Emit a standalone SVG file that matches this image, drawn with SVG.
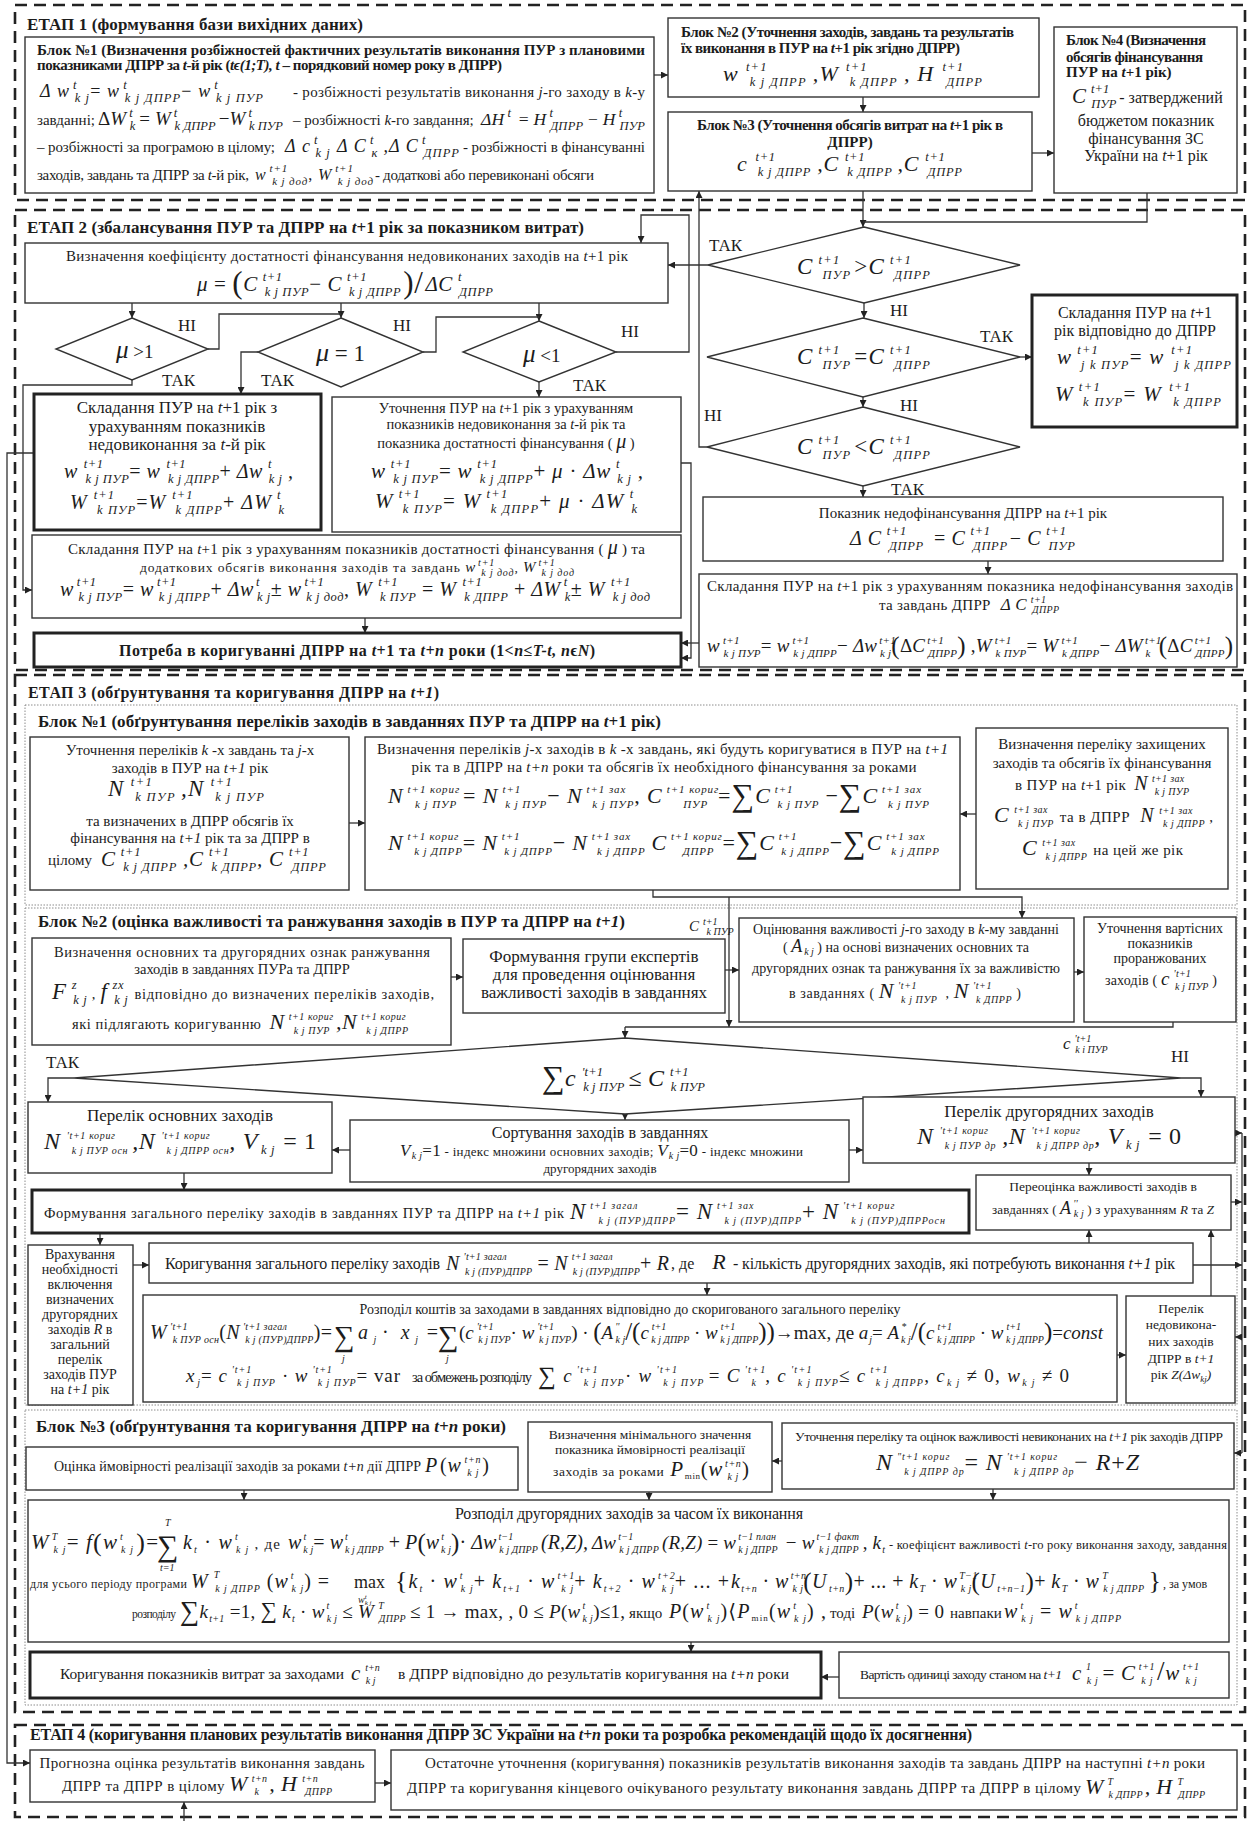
<svg xmlns="http://www.w3.org/2000/svg" width="1250" height="1821" viewBox="0 0 1250 1821">
<defs>
<marker id="ah" viewBox="0 0 10 10" refX="10" refY="5" markerWidth="8" markerHeight="7" markerUnits="userSpaceOnUse" orient="auto"><path d="M0,0L10,5L0,10z" fill="#222"/></marker>
<style>
svg{font-size:15px}
text{font-family:"Liberation Serif","DejaVu Serif",serif;fill:#1c1c1c}
.h{font-weight:bold}
.i,.f{font-style:italic}
.s{font-size:12.5px;font-style:italic}
.s2{font-size:11px;font-style:italic}
.ss{font-size:10px;font-style:italic}
.u{font-style:normal}
.c{text-anchor:middle}
.bx{fill:#fff;stroke:#333;stroke-width:1.4}
.bt{fill:#fff;stroke:#222;stroke-width:3}
.st{fill:none;stroke:#222;stroke-width:2.6;stroke-dasharray:12 7}
.bl{fill:none;stroke:#8c8c8c;stroke-width:1;stroke-dasharray:1.5 1.5}
.dm{fill:#fff;stroke:#333;stroke-width:1.4}
.cn{fill:none;stroke:#333;stroke-width:1.3;marker-end:url(#ah)}
.ln{fill:none;stroke:#333;stroke-width:1.3}
.lb{font-size:17px}
</style>
</defs>
<rect width="1250" height="1821" fill="#fff"/>

<g id="frames">
<rect class="st" x="15" y="5" width="1230" height="195"/>
<text class="h" x="27" y="30" font-size="17" textLength="336">ЕТАП 1 (формування бази вихідних даних)</text>
<rect class="st" x="15" y="210" width="1230" height="460"/>
<text class="h" x="27" y="233" font-size="17" textLength="557">ЕТАП 2 (збалансування ПУР та ДПРР на <tspan class="i">t</tspan>+1 рік за показником витрат)</text>
<rect class="st" x="15" y="675" width="1230" height="1037"/>
<text class="h" x="28" y="698" font-size="16" textLength="411">ЕТАП 3 (обґрунтування та коригування ДПРР на <tspan class="i">t+1</tspan>)</text>
<rect class="bl" x="25" y="705" width="1212" height="200"/>
<text class="h" x="38" y="727" font-size="17" textLength="623">Блок №1 (обґрунтування переліків заходів в завданнях ПУР та ДПРР на <tspan class="i">t</tspan>+1 рік)</text>
<rect class="bl" x="25" y="908" width="1212" height="497"/>
<text class="h" x="38" y="927" font-size="17" textLength="587">Блок №2 (оцінка важливості та ранжування заходів в ПУР та ДПРР на <tspan class="i">t+1</tspan>)</text>
<rect class="bl" x="25" y="1410" width="1212" height="295"/>
<text class="h" x="36" y="1432" font-size="17" textLength="470">Блок №3 (обґрунтування та коригування ДПРР на <tspan class="i">t+n</tspan> роки)</text>
<rect class="st" x="15" y="1725" width="1230" height="92"/>
<text class="h" x="30" y="1740" font-size="16" textLength="942">ЕТАП 4 (коригування планових результатів виконання ДПРР ЗС України на <tspan class="i">t+n</tspan> роки та розробка рекомендацій щодо їх досягнення)</text>
</g>

<g id="connectors">
<path class="cn" d="M654,75H668"/>
<path class="cn" d="M863,97V112"/>
<path class="cn" d="M1032,153H1054"/>
<path class="cn" d="M863,191V227"/>
<path class="ln" d="M1147,193V222H863"/>
<path class="cn" d="M708,265H668"/>
<path class="cn" d="M864,303V318"/>
<path class="cn" d="M1020,357H1032"/>
<path class="cn" d="M863,397V407"/>
<path class="cn" d="M707,447H699V191"/>
<path class="cn" d="M863,486V497"/>
<path class="cn" d="M988,561V574"/>
<path class="cn" d="M699,643H681"/>
<path class="cn" d="M681,463H691V658H681"/>
<path class="cn" d="M132,303V318"/>
<path class="cn" d="M341,303V318"/>
<path class="cn" d="M539,303V321"/>
<path class="ln" d="M208,349H219V314H341"/>
<path class="ln" d="M423,352H436V317H539"/>
<path class="cn" d="M616,352H689V215H641V243"/>
<path class="cn" d="M258,352H241V394"/>
<path class="cn" d="M132,380V385H23V590H32"/>
<path class="cn" d="M539,382V397"/>
<path class="cn" d="M34,453H7V1763H30"/>
<path class="cn" d="M365,618V633"/>
<path class="cn" d="M349,823H365"/>
<path class="cn" d="M976,814H960"/>
<path class="cn" d="M653,890V897H1022V918"/>
<path class="cn" d="M729,897V1027"/>
<path class="cn" d="M451,977H463"/>
<path class="cn" d="M725,970H739"/>
<path class="cn" d="M1074,972H1084"/>
<path class="ln" d="M1173,1022V1027H625"/>
<path class="cn" d="M625,1027V1038"/>
<path class="cn" d="M74,1078H48V1102"/>
<path class="cn" d="M1181,1078H1201V1097"/>
<path class="cn" d="M625,1110V1120"/>
<path class="cn" d="M350,1150H332"/>
<path class="cn" d="M849,1150H863"/>
<path class="cn" d="M1089,1163V1175"/>
<path class="cn" d="M184,1173V1190"/>
<path class="cn" d="M100,1233V1245"/>
<path class="cn" d="M133,1265H149"/>
<path class="cn" d="M1089,1243V1230"/>
<path class="cn" d="M707,1283V1295"/>
<path class="cn" d="M1193,1265H1242"/>
<path class="cn" d="M1234,1133H1242"/>
<path class="cn" d="M1231,1202H1242"/>
<path class="ln" d="M1242,1133V1453"/>
<path class="cn" d="M1242,1337H1235"/>
<path class="cn" d="M1242,1453H1234"/>
<path class="cn" d="M1117,1355H1126"/>
<path class="cn" d="M1211,1296V1230"/>
<path class="cn" d="M782,1461H772"/>
<path class="cn" d="M244,1490V1500"/>
<path class="cn" d="M649,1492V1500"/>
<path class="cn" d="M993,1489V1500"/>
<path class="cn" d="M691,1642V1652"/>
<path class="cn" d="M839,1677H821"/>
<path class="cn" d="M375,1783H391"/>
<path class="cn" d="M184,1821V1802"/>
</g>

<g id="s1-block1">
<rect class="bx" x="25" y="37" width="629" height="156"/>
<text class="h" x="37" y="55" textLength="608">Блок №1 (Визначення розбіжностей фактичних результатів виконання ПУР з плановими</text>
<text class="h" x="37" y="70" textLength="465">показниками ДПРР за <tspan class="i">t</tspan>-й рік (<tspan class="i">tϵ(1;T), t</tspan> – порядковий номер року в ДПРР)</text>
<text class="f" x="40" y="97" font-size="18" textLength="223">Δ w<tspan class="s" dx="3" dy="-8">t</tspan><tspan class="s" dx="-3" dy="13">k j</tspan><tspan class="u" dy="-5">= </tspan><tspan>w</tspan><tspan class="s" dx="3" dy="-8">t</tspan><tspan class="s" dx="-3" dy="13">k j ДПРР</tspan><tspan class="u" dy="-5">− </tspan><tspan>w</tspan><tspan class="s" dx="3" dy="-8">t</tspan><tspan class="s" dx="-3" dy="13">k j ПУР</tspan></text>
<text x="293" y="97" textLength="352">- розбіжності результатів виконання <tspan class="i">j</tspan>-го заходу в <tspan class="i">k</tspan>-у</text>
<text x="37" y="125">завданні;</text>
<text class="f" x="98" y="125" font-size="19" textLength="185"><tspan class="u">Δ</tspan>W<tspan class="s" dx="3" dy="-8">t</tspan><tspan class="s" dx="-3" dy="13">k</tspan><tspan class="u" dx="4" dy="-5">= </tspan><tspan>W</tspan><tspan class="s" dx="3" dy="-8">t</tspan><tspan class="s" dx="-3" dy="13">k ДПРР</tspan><tspan class="u" dx="3" dy="-5">−</tspan><tspan>W</tspan><tspan class="s" dx="3" dy="-8">t</tspan><tspan class="s" dx="-3" dy="13">k ПУР</tspan></text>
<text x="293" y="125">– розбіжності <tspan class="i">k</tspan>-го завдання;</text>
<text class="f" x="481" y="125" font-size="17.5" textLength="164">ΔH<tspan class="s" dx="3" dy="-8">t</tspan><tspan class="u" dx="3" dy="8"> = </tspan><tspan>H</tspan><tspan class="s" dx="3" dy="-8">t</tspan><tspan class="s" dx="-3" dy="13">ДПРР</tspan><tspan class="u" dy="-5"> − </tspan><tspan>H</tspan><tspan class="s" dx="3" dy="-8">t</tspan><tspan class="s" dx="-3" dy="13">ПУР</tspan></text>
<text x="37" y="152" textLength="238">– розбіжності за програмою в цілому;</text>
<text class="f" x="285" y="152" font-size="18" textLength="174">Δ c<tspan class="s" dx="3" dy="-8">t</tspan><tspan class="s" dx="-3" dy="13">k j</tspan><tspan dx="6" dy="-5">Δ C</tspan><tspan class="s" dx="3" dy="-8">t</tspan><tspan class="s" dx="-3" dy="13">к</tspan><tspan dx="5" dy="-5">,Δ C</tspan><tspan class="s" dx="3" dy="-8">t</tspan><tspan class="s" dx="-3" dy="13">ДПРР</tspan></text>
<text x="463" y="152" textLength="182">- розбіжності в фінансуванні</text>
<text x="37" y="180" textLength="212">заходів, завдань та ДПРР за <tspan class="i">t</tspan>-й рік,</text>
<text class="f" x="255" y="180" font-size="16" textLength="118">w<tspan class="s2" dx="3" dy="-8">t+1</tspan><tspan class="s2" dx="-16" dy="13">k j дод</tspan><tspan class="u" dy="-5">, </tspan><tspan>W</tspan><tspan class="s2" dx="3" dy="-8">t+1</tspan><tspan class="s2" dx="-16" dy="13">k j дод</tspan></text>
<text x="375" y="180" textLength="219">- додаткові або перевиконані обсяги</text>
</g>

<g id="s1-block2">
<rect class="bx" x="668" y="18" width="371" height="79"/>
<text class="h" x="681" y="37" textLength="333">Блок №2 (Уточнення заходів, завдань та результатів</text>
<text class="h" x="681" y="53" textLength="279">їх виконання в ПУР на <tspan class="i">t</tspan>+1 рік згідно ДПРР)</text>
<text class="f" x="723" y="81" font-size="22" textLength="259">w<tspan class="s" dx="7" dy="-10">t+1</tspan><tspan class="s" dx="-18" dy="15">k j ДПРР</tspan><tspan dx="6" dy="-5">,W</tspan><tspan class="s" dx="7" dy="-10">t+1</tspan><tspan class="s" dx="-18" dy="15">k ДПРР</tspan><tspan dx="6" dy="-5">, H</tspan><tspan class="s" dx="8" dy="-10">t+1</tspan><tspan class="s" dx="-18" dy="15">ДПРР</tspan></text>
</g>

<g id="s1-block3">
<rect class="bx" x="668" y="112" width="364" height="79"/>
<text class="h c" x="850" y="130" textLength="306">Блок №3 (Уточнення обсягів витрат на <tspan class="i">t</tspan>+1 рік в</text>
<text class="h c" x="850" y="147">ДПРР)</text>
<text class="f" x="737" y="171" font-size="22" textLength="225">c<tspan class="s" dx="8" dy="-10">t+1</tspan><tspan class="s" dx="-18" dy="15">k j ДПРР</tspan><tspan dx="6" dy="-5">,C</tspan><tspan class="s" dx="6" dy="-10">t+1</tspan><tspan class="s" dx="-18" dy="15">k ДПРР</tspan><tspan dx="5" dy="-5">,C</tspan><tspan class="s" dx="6" dy="-10">t+1</tspan><tspan class="s" dx="-18" dy="15">ДПРР</tspan></text>
</g>

<g id="s1-block4">
<rect class="bx" x="1054" y="27" width="183" height="166"/>
<text class="h" x="1066" y="45" textLength="140">Блок №4 (Визначення</text>
<text class="h" x="1066" y="62" textLength="137">обсягів фінансування</text>
<text class="h" x="1066" y="77">ПУР на <tspan class="i">t</tspan>+1 рік)</text>
<text x="1072" y="103" font-size="16"><tspan class="i" font-size="21">C</tspan><tspan class="s" dx="5" dy="-10">t+1</tspan><tspan class="s" dx="-18" dy="15">ПУР</tspan><tspan dx="3" dy="-5">- затверджений</tspan></text>
<text class="c" x="1146" y="126" font-size="16">бюджетом показник</text>
<text class="c" x="1146" y="144" font-size="16">фінансування ЗС</text>
<text class="c" x="1146" y="161" font-size="16">України на <tspan class="i">t</tspan>+1 рік</text>
</g>

<g id="s2-coef">
<rect class="bx" x="25" y="243" width="643" height="60"/>
<text class="c" x="347" y="261" textLength="562">Визначення коефіцієнту достатності фінансування недовиконаних заходів на <tspan class="i">t</tspan>+1 рік</text>
<text class="f" x="197" y="291" font-size="21" textLength="296">μ <tspan class="u">=</tspan> <tspan class="u" font-size="31" dy="2">(</tspan><tspan dy="-2">C</tspan><tspan class="s" dx="5" dy="-10">t+1</tspan><tspan class="s" dx="-18" dy="15">k j ПУР</tspan><tspan class="u" dy="-5">− </tspan><tspan>C</tspan><tspan class="s" dx="5" dy="-10">t+1</tspan><tspan class="s" dx="-18" dy="15">k j ДПРР</tspan><tspan class="u" font-size="31" dx="2" dy="-3">)</tspan><tspan class="u" font-size="31">/</tspan><tspan dx="2" dy="-2">ΔC</tspan><tspan class="s" dx="5" dy="-10">t</tspan><tspan class="s" dx="-3" dy="15">ДПРР</tspan></text>
</g>

<g id="s2-d1">
<polygon class="dm" points="864,227 1020,265 864,303 708,265"/>
<text class="f" x="797" y="274" font-size="23" textLength="133">C<tspan class="s" dx="5" dy="-10">t+1</tspan><tspan class="s" dx="-18" dy="15">ПУР</tspan><tspan class="u" dx="3" dy="-5">&gt;</tspan><tspan>C</tspan><tspan class="s" dx="5" dy="-10">t+1</tspan><tspan class="s" dx="-18" dy="15">ДПРР</tspan></text>
<text class="lb" x="709" y="251">ТАК</text>
<text class="lb" x="890" y="316">НІ</text>
</g>

<g id="s2-d2">
<polygon class="dm" points="863,318 1020,357 863,397 707,357"/>
<text class="f" x="797" y="364" font-size="23" textLength="133">C<tspan class="s" dx="5" dy="-10">t+1</tspan><tspan class="s" dx="-18" dy="15">ПУР</tspan><tspan class="u" dx="3" dy="-5">=</tspan><tspan>C</tspan><tspan class="s" dx="5" dy="-10">t+1</tspan><tspan class="s" dx="-18" dy="15">ДПРР</tspan></text>
<text class="lb" x="980" y="342">ТАК</text>
<text class="lb" x="900" y="411">НІ</text>
</g>

<g id="s2-d3">
<polygon class="dm" points="863,407 1020,447 863,486 707,447"/>
<text class="f" x="797" y="454" font-size="23" textLength="133">C<tspan class="s" dx="5" dy="-10">t+1</tspan><tspan class="s" dx="-18" dy="15">ПУР</tspan><tspan class="u" dx="3" dy="-5">&lt;</tspan><tspan>C</tspan><tspan class="s" dx="5" dy="-10">t+1</tspan><tspan class="s" dx="-18" dy="15">ДПРР</tspan></text>
<text class="lb" x="704" y="421">НІ</text>
<text class="lb" x="891" y="495">ТАК</text>
</g>

<g id="s2-pur-dprr">
<rect class="bt" x="1032" y="295" width="205" height="132"/>
<text class="c" x="1135" y="318" font-size="16">Складання ПУР на <tspan class="i">t</tspan>+1</text>
<text class="c" x="1135" y="336" font-size="16">рік відповідно до ДПРР</text>
<text class="f" x="1057" y="364" font-size="21" textLength="174">w<tspan class="s" dx="5" dy="-10">t+1</tspan><tspan class="s" dx="-18" dy="15">j k ПУР</tspan><tspan class="u" dy="-5">= </tspan><tspan>w</tspan><tspan class="s" dx="7" dy="-10">t+1</tspan><tspan class="s" dx="-18" dy="15">j k ДПРР</tspan></text>
<text class="f" x="1055" y="401" font-size="21" textLength="166">W<tspan class="s" dx="5" dy="-10">t+1</tspan><tspan class="s" dx="-18" dy="15">k ПУР</tspan><tspan class="u" dy="-5">= </tspan><tspan>W</tspan><tspan class="s" dx="7" dy="-10">t+1</tspan><tspan class="s" dx="-18" dy="15">k ДПРР</tspan></text>
</g>

<g id="s2-underfin">
<rect class="bx" x="703" y="497" width="520" height="64"/>
<text class="c" x="963" y="518">Показник недофінансування ДПРР на <tspan class="i">t</tspan>+1 рік</text>
<text class="f" x="850" y="545" font-size="20" textLength="225">Δ C<tspan class="s" dx="5" dy="-10">t+1</tspan><tspan class="s" dx="-18" dy="15">ДПРР</tspan><tspan class="u" dx="10" dy="-5">= </tspan><tspan>C</tspan><tspan class="s" dx="5" dy="-10">t+1</tspan><tspan class="s" dx="-18" dy="15">ДПРР</tspan><tspan class="u" dx="2" dy="-5">− </tspan><tspan>C</tspan><tspan class="s" dx="5" dy="-10">t+1</tspan><tspan class="s" dx="-18" dy="15">ПУР</tspan></text>
</g>

<g id="s2-pur-underfin">
<rect class="bx" x="699" y="574" width="538" height="93"/>
<text x="707" y="591" textLength="526">Складання ПУР на <tspan class="i">t</tspan>+1 рік з урахуванням показника недофінансування заходів</text>
<text x="879" y="610" textLength="180">та завдань ДПРР <tspan class="i" font-size="17" dx="6">Δ C</tspan><tspan class="ss" dx="4" dy="-7">t+1</tspan><tspan class="ss" dx="-14" dy="10">ДПРР</tspan></text>
<text class="f" x="707" y="652" font-size="19" textLength="526">w<tspan class="s2" dx="3" dy="-8">t+1</tspan><tspan class="s2" dx="-16" dy="13">k j ПУР</tspan><tspan class="u" dy="-5">= </tspan><tspan>w</tspan><tspan class="s2" dx="3" dy="-8">t+1</tspan><tspan class="s2" dx="-16" dy="13">k j ДПРР</tspan><tspan class="u" dy="-5">− </tspan><tspan>Δw</tspan><tspan class="s2" dx="2" dy="-8">t+1</tspan><tspan class="s2" dx="-16" dy="13">k j</tspan><tspan class="u" font-size="25" dy="-3">(</tspan><tspan class="u" dy="-2">Δ</tspan><tspan>C</tspan><tspan class="s2" dx="2" dy="-8">t+1</tspan><tspan class="s2" dx="-16" dy="13">ДПРР</tspan><tspan class="u" font-size="25" dy="-3">)</tspan><tspan class="u" dy="-2"> ,</tspan><tspan>W</tspan><tspan class="s2" dx="3" dy="-8">t+1</tspan><tspan class="s2" dx="-16" dy="13">k ПУР</tspan><tspan class="u" dy="-5">= </tspan><tspan>W</tspan><tspan class="s2" dx="3" dy="-8">t+1</tspan><tspan class="s2" dx="-16" dy="13">k ДПРР</tspan><tspan class="u" dy="-5">− </tspan><tspan>ΔW</tspan><tspan class="s2" dx="2" dy="-8">t+1</tspan><tspan class="s2" dx="-16" dy="13">k</tspan><tspan class="u" font-size="25" dx="8" dy="-3">(</tspan><tspan class="u" dy="-2">Δ</tspan><tspan>C</tspan><tspan class="s2" dx="2" dy="-8">t+1</tspan><tspan class="s2" dx="-16" dy="13">ДПРР</tspan><tspan class="u" font-size="25" dy="-3">)</tspan></text>
</g>

<g id="s2-mu1">
<polygon class="dm" points="132,318 208,349 132,380 56,349"/>
<text x="116" y="358" font-size="19"><tspan class="i" font-size="25">μ</tspan> &gt;1</text>
<text class="lb" x="178" y="331">НІ</text>
<text class="lb" x="162" y="386">ТАК</text>
</g>

<g id="s2-mu2">
<polygon class="dm" points="341,318 423,352 341,387 258,352"/>
<text x="316" y="361" font-size="23"><tspan class="i" font-size="26">μ</tspan> = 1</text>
<text class="lb" x="393" y="331">НІ</text>
<text class="lb" x="261" y="386">ТАК</text>
</g>

<g id="s2-mu3">
<polygon class="dm" points="539,321 616,352 539,382 463,352"/>
<text x="523" y="362" font-size="19"><tspan class="i" font-size="25">μ</tspan> &lt;1</text>
<text class="lb" x="621" y="337">НІ</text>
<text class="lb" x="573" y="391">ТАК</text>
</g>

<g id="s2-pur-undone">
<rect class="bt" x="34" y="394" width="287" height="136"/>
<text class="c" x="177" y="413" font-size="17">Складання ПУР на <tspan class="i">t</tspan>+1 рік з</text>
<text class="c" x="177" y="432" font-size="17">урахуванням показників</text>
<text class="c" x="177" y="450" font-size="17">недовиконання за <tspan class="i">t</tspan>-й рік</text>
<text class="f" x="64" y="478" font-size="20" textLength="229">w<tspan class="s" dx="6" dy="-10">t+1</tspan><tspan class="s" dx="-18" dy="15">k j ПУР</tspan><tspan class="u" dy="-5">= </tspan><tspan>w</tspan><tspan class="s" dx="6" dy="-10">t+1</tspan><tspan class="s" dx="-18" dy="15">k j ДПРР</tspan><tspan class="u" dy="-5">+ </tspan><tspan>Δw</tspan><tspan class="s" dx="5" dy="-10">t</tspan><tspan class="s" dx="-3" dy="15">k j</tspan><tspan dy="-5"> ,</tspan></text>
<text class="f" x="70" y="509" font-size="20" textLength="214">W<tspan class="s" dx="6" dy="-10">t+1</tspan><tspan class="s" dx="-18" dy="15">k ПУР</tspan><tspan class="u" dy="-5">=</tspan><tspan>W</tspan><tspan class="s" dx="6" dy="-10">t+1</tspan><tspan class="s" dx="-18" dy="15">k ДПРР</tspan><tspan class="u" dy="-5">+ </tspan><tspan>ΔW</tspan><tspan class="s" dx="5" dy="-10">t</tspan><tspan class="s" dx="-3" dy="15">k</tspan></text>
</g>

<g id="s2-pur-mu">
<rect class="bx" x="332" y="397" width="349" height="135"/>
<text class="c" x="506" y="413" font-size="14.5">Уточнення ПУР на <tspan class="i">t</tspan>+1 рік з урахуванням</text>
<text class="c" x="506" y="429" font-size="14.5">показників недовиконання за <tspan class="i">t</tspan>-й рік та</text>
<text class="c" x="506" y="448" font-size="14.5">показника достатності фінансування ( <tspan class="i" font-size="20">μ</tspan> )</text>
<text class="f" x="371" y="478" font-size="21" textLength="272">w<tspan class="s" dx="5" dy="-10">t+1</tspan><tspan class="s" dx="-18" dy="15">k j ПУР</tspan><tspan class="u" dy="-5">= </tspan><tspan>w</tspan><tspan class="s" dx="5" dy="-10">t+1</tspan><tspan class="s" dx="-18" dy="15">k j ДПРР</tspan><tspan class="u" dy="-5">+ </tspan><tspan>μ</tspan><tspan class="u"> · </tspan><tspan>Δw</tspan><tspan class="s" dx="5" dy="-10">t</tspan><tspan class="s" dx="-3" dy="15">k j</tspan><tspan dy="-5"> ,</tspan></text>
<text class="f" x="375" y="508" font-size="21" textLength="262">W<tspan class="s" dx="5" dy="-10">t+1</tspan><tspan class="s" dx="-18" dy="15">k ПУР</tspan><tspan class="u" dy="-5">= </tspan><tspan>W</tspan><tspan class="s" dx="5" dy="-10">t+1</tspan><tspan class="s" dx="-18" dy="15">k ДПРР</tspan><tspan class="u" dy="-5">+ </tspan><tspan>μ</tspan><tspan class="u"> · </tspan><tspan>ΔW</tspan><tspan class="s" dx="5" dy="-10">t</tspan><tspan class="s" dx="-3" dy="15">k</tspan></text>
</g>

<g id="s2-pur-extra">
<rect class="bx" x="32" y="535" width="649" height="83"/>
<text x="68" y="554" textLength="577">Складання ПУР на <tspan class="i">t</tspan>+1 рік з урахуванням показників достатності фінансування ( <tspan class="i" font-size="20">μ</tspan> ) та</text>
<text x="140" y="572" font-size="13.5" textLength="434">додаткових обсягів виконання заходів та завдань <tspan class="i" font-size="15">w</tspan><tspan class="ss" dx="2" dy="-6">t+1</tspan><tspan class="ss" dx="-14" dy="10">k j дод</tspan><tspan dy="-4">, </tspan><tspan class="i" font-size="15">W</tspan><tspan class="ss" dx="2" dy="-6">t+1</tspan><tspan class="ss" dx="-14" dy="10">k j дод</tspan></text>
<text class="f" x="60" y="596" font-size="20" textLength="590">w<tspan class="s" dx="3" dy="-10">t+1</tspan><tspan class="s" dx="-18" dy="15">k j ПУР</tspan><tspan class="u" dy="-5">= </tspan><tspan>w</tspan><tspan class="s" dx="3" dy="-10">t+1</tspan><tspan class="s" dx="-18" dy="15">k j ДПРР</tspan><tspan class="u" dy="-5">+ </tspan><tspan>Δw</tspan><tspan class="s" dx="2" dy="-10">t</tspan><tspan class="s" dx="-3" dy="15">k j</tspan><tspan class="u" dy="-5">± </tspan><tspan>w</tspan><tspan class="s" dx="3" dy="-10">t+1</tspan><tspan class="s" dx="-18" dy="15">k j дод</tspan><tspan class="u" dy="-5">, </tspan><tspan>W</tspan><tspan class="s" dx="6" dy="-10">t+1</tspan><tspan class="s" dx="-18" dy="15">k ПУР</tspan><tspan class="u" dy="-5"> = </tspan><tspan>W</tspan><tspan class="s" dx="6" dy="-10">t+1</tspan><tspan class="s" dx="-18" dy="15">k ДПРР</tspan><tspan class="u" dy="-5"> + </tspan><tspan>ΔW</tspan><tspan class="s" dx="3" dy="-10">t</tspan><tspan class="s" dx="-3" dy="15">k</tspan><tspan class="u" dy="-5">± </tspan><tspan>W</tspan><tspan class="s" dx="6" dy="-10">t+1</tspan><tspan class="s" dx="-18" dy="15">k j дод</tspan></text>
</g>

<g id="s2-need">
<rect class="bt" x="34" y="633" width="647" height="34"/>
<text class="h c" x="357" y="656" font-size="16" textLength="476">Потреба в коригуванні ДПРР на <tspan class="i">t</tspan>+1 та <tspan class="i">t+n</tspan> роки (1&lt;<tspan class="i">n</tspan>≤<tspan class="i">T-t, n</tspan>ϵ<tspan class="i">N</tspan>)</text>
</g>

<g id="s3-lists">
<rect class="bx" x="30" y="737" width="319" height="153"/>
<text class="c" x="190" y="755">Уточнення переліків <tspan class="i">k</tspan> -х завдань та <tspan class="i">j</tspan>-х</text>
<text class="c" x="190" y="773">заходів в ПУР на <tspan class="i">t+1</tspan> рік</text>
<text class="f" x="108" y="796" font-size="23" textLength="156">N<tspan class="s" dx="6" dy="-10">t+1</tspan><tspan class="s" dx="-18" dy="15">k ПУР</tspan><tspan dx="5" dy="-5">,N</tspan><tspan class="s" dx="6" dy="-10">t+1</tspan><tspan class="s" dx="-18" dy="15">k j ПУР</tspan></text>
<text class="c" x="190" y="826">та визначених в ДПРР обсягів їх</text>
<text class="c" x="190" y="843">фінансування на <tspan class="i">t+1</tspan> рік та за ДПРР в</text>
<text x="48" y="865">цілому</text>
<text class="f" x="101" y="866" font-size="21" textLength="225">C<tspan class="s" dx="5" dy="-10">t+1</tspan><tspan class="s" dx="-18" dy="15">k j ДПРР</tspan><tspan dx="6" dy="-5">,C</tspan><tspan class="s" dx="5" dy="-10">t+1</tspan><tspan class="s" dx="-18" dy="15">k ДПРР</tspan><tspan dy="-5">, C</tspan><tspan class="s" dx="5" dy="-10">t+1</tspan><tspan class="s" dx="-18" dy="15">ДПРР</tspan></text>
</g>

<g id="s3-corr-lists">
<rect class="bx" x="365" y="737" width="595" height="153"/>
<text x="377" y="754" textLength="571">Визначення переліків <tspan class="i">j</tspan>-х заходів в <tspan class="i">k</tspan> -х завдань, які будуть коригуватися в ПУР на <tspan class="i">t+1</tspan></text>
<text class="c" x="664" y="772" textLength="505">рік та в ДПРР на <tspan class="i">t+n</tspan> роки та обсягів їх необхідного фінансування за роками</text>
<text class="f" x="388" y="803" font-size="22" textLength="541">N<tspan class="s2" dx="4" dy="-10">t+1 кориг</tspan><tspan class="s2" dx="-45" dy="15">k j ПУР</tspan><tspan class="u" dx="6" dy="-5">= </tspan><tspan>N</tspan><tspan class="s2" dx="4" dy="-10">t+1</tspan><tspan class="s2" dx="-16" dy="15">k j ПУР</tspan><tspan class="u" dy="-5">− </tspan><tspan>N</tspan><tspan class="s2" dx="4" dy="-10">t+1 зах</tspan><tspan class="s2" dx="-34" dy="15">k j ПУР</tspan><tspan class="u" dy="-5">, </tspan><tspan>C</tspan><tspan class="s2" dx="4" dy="-10">t+1 кориг</tspan><tspan class="s2" dx="-36" dy="15">ПУР</tspan><tspan class="u" dx="10" dy="-5">=</tspan><tspan class="u" font-size="32" dy="3">∑</tspan><tspan dy="-3">C</tspan><tspan class="s2" dx="4" dy="-10">t+1</tspan><tspan class="s2" dx="-16" dy="15">k j ПУР</tspan><tspan class="u" dx="6" dy="-5">−</tspan><tspan class="u" font-size="32" dy="3">∑</tspan><tspan dy="-3">C</tspan><tspan class="s2" dx="4" dy="-10">t+1 зах</tspan><tspan class="s2" dx="-34" dy="15">k j ПУР</tspan></text>
<text class="f" x="388" y="850" font-size="22" textLength="551">N<tspan class="s2" dx="4" dy="-10">t+1 кориг</tspan><tspan class="s2" dx="-45" dy="15">k j ДПРР</tspan><tspan class="u" dy="-5">= </tspan><tspan>N</tspan><tspan class="s2" dx="4" dy="-10">t+1</tspan><tspan class="s2" dx="-16" dy="15">k j ДПРР</tspan><tspan class="u" dy="-5">− </tspan><tspan>N</tspan><tspan class="s2" dx="4" dy="-10">t+1 зах</tspan><tspan class="s2" dx="-34" dy="15">k j ДПРР</tspan><tspan dx="6" dy="-5">C</tspan><tspan class="s2" dx="4" dy="-10">t+1 кориг</tspan><tspan class="s2" dx="-40" dy="15">ДПРР</tspan><tspan class="u" dx="8" dy="-5">=</tspan><tspan class="u" font-size="32" dy="3">∑</tspan><tspan dy="-3">C</tspan><tspan class="s2" dx="4" dy="-10">t+1</tspan><tspan class="s2" dx="-16" dy="15">k j ДПРР</tspan><tspan class="u" dy="-5">−</tspan><tspan class="u" font-size="32" dy="3">∑</tspan><tspan dy="-3">C</tspan><tspan class="s2" dx="4" dy="-10">t+1 зах</tspan><tspan class="s2" dx="-34" dy="15">k j ДПРР</tspan></text>
</g>

<g id="s3-protected">
<rect class="bx" x="976" y="728" width="252" height="161"/>
<text class="c" x="1102" y="749">Визначення переліку захищених</text>
<text class="c" x="1102" y="768">заходів та обсягів їх фінансування</text>
<text x="1015" y="790" textLength="174">в ПУР на <tspan class="i">t</tspan>+1 рік <tspan class="i" font-size="20" dx="4">N</tspan><tspan class="ss" dx="4" dy="-8">t+1 зах</tspan><tspan class="ss" dx="-30" dy="13">k j ПУР</tspan></text>
<text x="994" y="822" textLength="219"><tspan class="i" font-size="22">C</tspan><tspan class="ss" dx="5" dy="-9">t+1 зах</tspan><tspan class="ss" dx="-30" dy="14">k j ПУР</tspan><tspan dx="6" dy="-5">та в ДПРР </tspan><tspan class="i" font-size="20" dx="6">N</tspan><tspan class="ss" dx="5" dy="-8">t+1 зах</tspan><tspan class="ss" dx="-30" dy="13">k j ДПРР</tspan><tspan dy="-5"> ,</tspan></text>
<text x="1022" y="855" textLength="161"><tspan class="i" font-size="22">C</tspan><tspan class="ss" dx="5" dy="-9">t+1 зах</tspan><tspan class="ss" dx="-30" dy="14">k j ДПРР</tspan><tspan dx="6" dy="-5">на цей же рік</tspan></text>
</g>

<g id="s3-label-c">
<text class="f" x="689" y="931" font-size="15">C<tspan class="ss" dx="4" dy="-6" font-size="8">t+1</tspan><tspan class="ss" dx="-11" dy="10" font-size="8">k ПУР</tspan></text>
<text class="f" x="1063" y="1049" font-size="17">c<tspan class="ss" dx="4" dy="-7">'t+1</tspan><tspan class="ss" dx="-16" dy="11">k i ПУР</tspan></text>
</g>

<g id="s3-criteria">
<rect class="bx" x="32" y="938" width="419" height="107"/>
<text class="c" x="242" y="957" font-size="14.5" textLength="376">Визначення основних та другорядних ознак ранжування</text>
<text class="c" x="242" y="974" font-size="14.5">заходів в завданнях ПУРа та ДПРР</text>
<text x="52" y="999" font-size="14.5" textLength="382"><tspan class="i" font-size="23">F</tspan><tspan class="s" dx="5" dy="-10">z</tspan><tspan class="s" dx="-4" dy="15">k j</tspan><tspan dy="-5"> , </tspan><tspan class="i" font-size="23">f</tspan><tspan class="s" dx="5" dy="-10">zx</tspan><tspan class="s" dx="-10" dy="15">k j</tspan><tspan dx="6" dy="-5">відповідно до визначених переліків заходів,</tspan></text>
<text x="72" y="1029" font-size="14.5" textLength="338">які підлягають коригуванню <tspan class="i" font-size="22" dx="4">N</tspan><tspan class="ss" dx="4" dy="-9">t+1 кориг</tspan><tspan class="ss" dx="-40" dy="14">k j ПУР</tspan><tspan class="i" font-size="22" dy="-5"> ,N</tspan><tspan class="ss" dx="4" dy="-9">t+1 кориг</tspan><tspan class="ss" dx="-40" dy="14">k j ДПРР</tspan></text>
</g>

<g id="s3-experts">
<rect class="bx" x="463" y="939" width="262" height="74"/>
<text class="c" x="594" y="962" font-size="17">Формування групи експертів</text>
<text class="c" x="594" y="980" font-size="17">для проведення оцінювання</text>
<text class="c" x="594" y="998" font-size="17">важливості заходів в завданнях</text>
</g>

<g id="s3-evaluation">
<rect class="bx" x="739" y="918" width="335" height="104"/>
<text class="c" x="906" y="934" font-size="14" textLength="306">Оцінювання важливості <tspan class="i">j</tspan>-го заходу в <tspan class="i">k</tspan>-му завданні</text>
<text x="783" y="952" font-size="14" textLength="246">( <tspan class="i" font-size="18">A</tspan><tspan class="ss" dx="2" dy="3">k j</tspan><tspan dy="-3"> ) на основі визначених основних та</tspan></text>
<text class="c" x="906" y="973" font-size="14" textLength="308">другорядних ознак та ранжування їх за важливістю</text>
<text x="789" y="998" font-size="14" textLength="232">в завданнях ( <tspan class="i" font-size="22">N</tspan><tspan class="ss" dx="4" dy="-9">'t+1</tspan><tspan class="ss" dx="-16" dy="14">k j ПУР</tspan><tspan dx="4" dy="-5"> , </tspan><tspan class="i" font-size="22">N</tspan><tspan class="ss" dx="4" dy="-9">'t+1</tspan><tspan class="ss" dx="-16" dy="14">k ДПРР</tspan><tspan dy="-5"> )</tspan></text>
</g>

<g id="s3-cost">
<rect class="bx" x="1084" y="917" width="152" height="105"/>
<text class="c" x="1160" y="933" font-size="14">Уточнення вартісних</text>
<text class="c" x="1160" y="948" font-size="14">показників</text>
<text class="c" x="1160" y="963" font-size="14">проранжованих</text>
<text x="1105" y="985" font-size="14" textLength="112">заходів ( <tspan class="i" font-size="19">c</tspan><tspan class="ss" dx="4" dy="-8">'t+1</tspan><tspan class="ss" dx="-16" dy="13">k j ПУР</tspan><tspan dy="-5"> )</tspan></text>
</g>

<g id="s3-diamond">
<polygon class="dm" points="625,1038 1181,1078 625,1114 74,1078"/>
<text x="542" y="1086" font-size="24" textLength="163"><tspan class="u" font-size="32" dy="2">∑</tspan><tspan class="i" dy="-2">c</tspan><tspan class="s" dx="6" dy="-10">'t+1</tspan><tspan class="s" dx="-20" dy="15">k j ПУР</tspan><tspan dx="4" dy="-5">≤ </tspan><tspan class="i">C</tspan><tspan class="s" dx="6" dy="-10">t+1</tspan><tspan class="s" dx="-18" dy="15">k ПУР</tspan></text>
<text class="lb" x="46" y="1068">ТАК</text>
<text class="lb" x="1171" y="1062">НІ</text>
</g>

<g id="s3-main-list">
<rect class="bx" x="28" y="1102" width="304" height="71"/>
<text class="c" x="180" y="1121" font-size="17">Перелік основних заходів</text>
<text class="f" x="44" y="1149" font-size="24" textLength="272">N<tspan class="ss" dx="6" dy="-10">'t+1 кориг</tspan><tspan class="ss" dx="-44" dy="15">k j ПУР осн</tspan><tspan dx="4" dy="-5">,N</tspan><tspan class="ss" dx="6" dy="-10">'t+1 кориг</tspan><tspan class="ss" dx="-44" dy="15">k j ДПРР осн</tspan><tspan dy="-5">, V</tspan><tspan class="s" dx="3" dy="5">k j</tspan><tspan class="u" dx="8" dy="-5">= 1</tspan></text>
</g>

<g id="s3-sort">
<rect class="bx" x="350" y="1120" width="499" height="62"/>
<text class="c" x="600" y="1138" font-size="16">Сортування заходів в завданнях</text>
<text x="400" y="1156" font-size="13" textLength="403"><tspan class="i" font-size="17">V</tspan><tspan class="ss" dx="1" dy="3">k j</tspan><tspan font-size="17" dy="-3">=1</tspan> - індекс множини основних заходів; <tspan class="i" font-size="17">V</tspan><tspan class="ss" dx="1" dy="3">k j</tspan><tspan font-size="17" dy="-3">=0</tspan> - індекс множини</text>
<text class="c" x="600" y="1173" font-size="13">другорядних заходів</text>
</g>

<g id="s3-secondary-list">
<rect class="bx" x="863" y="1097" width="372" height="66"/>
<text class="c" x="1049" y="1117" font-size="17">Перелік другорядних заходів</text>
<text class="f" x="917" y="1144" font-size="24" textLength="264">N<tspan class="ss" dx="6" dy="-10">'t+1 кориг</tspan><tspan class="ss" dx="-44" dy="15">k j ПУР др</tspan><tspan dx="6" dy="-5">,N</tspan><tspan class="ss" dx="6" dy="-10">'t+1 кориг</tspan><tspan class="ss" dx="-44" dy="15">k j ДПРР др</tspan><tspan dy="-5">, V</tspan><tspan class="s" dx="3" dy="5">k j</tspan><tspan class="u" dx="8" dy="-5">= 0</tspan></text>
</g>

<g id="s3-reassess">
<rect class="bx" x="976" y="1175" width="255" height="55"/>
<text class="c" x="1103" y="1191" font-size="13.5">Переоцінка важливості заходів в</text>
<text x="992" y="1214" font-size="13" textLength="222">завданнях ( <tspan class="i" font-size="18">A</tspan><tspan class="ss" dx="2" dy="-7">''</tspan><tspan class="ss" dx="-4" dy="10">k j</tspan><tspan dy="-3"> ) з урахуванням </tspan><tspan class="i">R</tspan> та <tspan class="i">Z</tspan></text>
</g>

<g id="s3-general-list">
<rect class="bt" x="32" y="1190" width="937" height="43" stroke-width="2.5"/>
<text x="44" y="1218" font-size="14.5" textLength="520">Формування загального переліку заходів в завданнях ПУР та ДПРР на <tspan class="i">t+1</tspan> рік</text>
<text class="f" x="570" y="1219" font-size="23" textLength="375">N<tspan class="ss" dx="4" dy="-10">t+1 загал</tspan><tspan class="ss" dx="-40" dy="15">k j (ПУР)ДПРР</tspan><tspan class="u" dy="-5">= </tspan><tspan>N</tspan><tspan class="ss" dx="4" dy="-10">t+1 зах</tspan><tspan class="ss" dx="-30" dy="15">k j (ПУР)ДПРР</tspan><tspan class="u" dy="-5">+ </tspan><tspan>N</tspan><tspan class="ss" dx="4" dy="-10">'t+1 кориг</tspan><tspan class="ss" dx="-44" dy="15">k j (ПУР)ДПРРосн</tspan></text>
</g>

<g id="s3-include">
<rect class="bx" x="28" y="1245" width="105" height="160"/>
<text class="c" x="80" y="1259" font-size="14">Врахування</text>
<text class="c" x="80" y="1274" font-size="14">необхідності</text>
<text class="c" x="80" y="1289" font-size="14">включення</text>
<text class="c" x="80" y="1304" font-size="14">визначених</text>
<text class="c" x="80" y="1319" font-size="14">другорядних</text>
<text class="c" x="80" y="1334" font-size="14">заходів <tspan class="i">R</tspan> в</text>
<text class="c" x="80" y="1349" font-size="14">загальний</text>
<text class="c" x="80" y="1364" font-size="14">перелік</text>
<text class="c" x="80" y="1379" font-size="14">заходів ПУР</text>
<text class="c" x="80" y="1394" font-size="14">на <tspan class="i">t+1</tspan> рік</text>
</g>

<g id="s3-correct-list">
<rect class="bx" x="149" y="1243" width="1044" height="40"/>
<text x="165" y="1269" font-size="16" textLength="275">Коригування загального переліку заходів</text>
<text class="f" x="446" y="1270" font-size="20" textLength="223">N<tspan class="ss" dx="4" dy="-10">'t+1 загал</tspan><tspan class="ss" dx="-42" dy="15">k j (ПУР)ДПРР</tspan><tspan class="u" dy="-5"> = </tspan><tspan>N</tspan><tspan class="ss" dx="4" dy="-10">t+1 загал</tspan><tspan class="ss" dx="-40" dy="15">k j (ПУР)ДПРР</tspan><tspan class="u" dy="-5">+ </tspan><tspan>R</tspan></text>
<text x="671" y="1269" font-size="16">, де <tspan class="i" font-size="22" dx="14">R</tspan></text>
<text x="733" y="1269" font-size="16" textLength="442">- кількість другорядних заходів, які потребують виконання <tspan class="i">t+1</tspan> рік</text>
</g>

<g id="s3-distribution">
<rect class="bx" x="143" y="1295" width="974" height="107"/>
<text class="c" x="630" y="1314" font-size="14" textLength="541">Розподіл коштів за заходами в завданнях відповідно до скоригованого загального переліку</text>
<text class="f" x="150" y="1339" font-size="20" textLength="182">W<tspan class="ss" dx="3" dy="-9">'t+1</tspan><tspan class="ss" dx="-15" dy="13">k ПУР осн</tspan><tspan class="u" dy="-4">(</tspan><tspan>N</tspan><tspan class="ss" dx="3" dy="-9">'t+1 загал</tspan><tspan class="ss" dx="-42" dy="13">k j (ПУР)ДПРР</tspan><tspan class="u" dy="-4">)=</tspan></text>
<text class="u" x="334" y="1346" font-size="29">∑</text>
<text class="ss" x="342" y="1362">j</text>
<text class="f" x="358" y="1339" font-size="20" textLength="80">a<tspan class="ss" dx="2" dy="4">j</tspan><tspan class="u" dx="2" dy="-4">· </tspan><tspan>x</tspan><tspan class="ss" dx="2" dy="4">j</tspan><tspan class="u" dx="5" dy="-4">=</tspan></text>
<text class="u" x="438" y="1346" font-size="29">∑</text>
<text class="ss" x="446" y="1362">j</text>
<text class="f" x="459" y="1339" font-size="19" textLength="644"><tspan class="u">(</tspan>c<tspan class="ss" dx="3" dy="-9">'t+1</tspan><tspan class="ss" dx="-15" dy="13">k j ПУР</tspan><tspan class="u" dy="-4">· </tspan><tspan>w</tspan><tspan class="ss" dx="3" dy="-9">'t+1</tspan><tspan class="ss" dx="-15" dy="13">k j ПУР</tspan><tspan class="u" dy="-4">)</tspan><tspan class="u"> · </tspan><tspan class="u" font-size="25" dy="1">(</tspan><tspan dy="-1">A</tspan><tspan class="ss" dx="2" dy="-9">''</tspan><tspan class="ss" dx="-4" dy="13">k j</tspan><tspan class="u" font-size="25" dy="-3">/</tspan><tspan class="u" font-size="25">(</tspan><tspan dy="-1">c</tspan><tspan class="ss" dx="3" dy="-9">t+1</tspan><tspan class="ss" dx="-15" dy="13">k j ДПРР</tspan><tspan class="u" dy="-4"> · </tspan><tspan>w</tspan><tspan class="ss" dx="3" dy="-9">t+1</tspan><tspan class="ss" dx="-15" dy="13">k j ДПРР</tspan><tspan class="u" font-size="25" dy="-3">))</tspan><tspan class="u" dy="-1">→max, де </tspan><tspan>a</tspan><tspan class="ss" dx="1" dy="4">j</tspan><tspan class="u" dy="-4">= </tspan><tspan>A</tspan><tspan class="ss" dx="2" dy="-9">*</tspan><tspan class="ss" dx="-5" dy="13">k j</tspan><tspan class="u" font-size="25" dy="-3">/</tspan><tspan class="u" font-size="25">(</tspan><tspan dy="-1">c</tspan><tspan class="ss" dx="3" dy="-9">t+1</tspan><tspan class="ss" dx="-15" dy="13">k j ДПРР</tspan><tspan class="u" dy="-4"> · </tspan><tspan>w</tspan><tspan class="ss" dx="3" dy="-9">t+1</tspan><tspan class="ss" dx="-15" dy="13">k j ДПРР</tspan><tspan class="u" font-size="25" dy="-3">)</tspan><tspan dy="-1" class="u">=</tspan><tspan>const</tspan></text>
<text class="f" x="186" y="1382" font-size="19" textLength="214">x<tspan class="ss" dx="2" dy="4">j</tspan><tspan class="u" dy="-4">= </tspan><tspan>c</tspan><tspan class="ss" dx="4" dy="-9">'t+1</tspan><tspan class="ss" dx="-15" dy="13">k j ПУР</tspan><tspan class="u" dx="6" dy="-4">· </tspan><tspan>w</tspan><tspan class="ss" dx="4" dy="-9">'t+1</tspan><tspan class="ss" dx="-15" dy="13">k j ПУР</tspan><tspan class="u" dy="-4">= var</tspan></text>
<text x="412" y="1382" font-size="14.5" textLength="120">за обмежень розподілу</text>
<text class="f" x="538" y="1382" font-size="19" textLength="531"><tspan class="u" font-size="25" dy="2">∑</tspan><tspan dy="-2"> c</tspan><tspan class="ss" dx="4" dy="-9">'t+1</tspan><tspan class="ss" dx="-15" dy="13">k j ПУР</tspan><tspan class="u" dy="-4">· </tspan><tspan>w</tspan><tspan class="ss" dx="4" dy="-9">'t+1</tspan><tspan class="ss" dx="-15" dy="13">k j ПУР</tspan><tspan class="u" dx="4" dy="-4">= </tspan><tspan>C</tspan><tspan class="ss" dx="4" dy="-9">'t+1</tspan><tspan class="ss" dx="-15" dy="13">k</tspan><tspan class="u" dx="8" dy="-4">, </tspan><tspan>c</tspan><tspan class="ss" dx="4" dy="-9">'t+1</tspan><tspan class="ss" dx="-15" dy="13">k j ПУР</tspan><tspan class="u" dy="-4">≤ </tspan><tspan>c</tspan><tspan class="ss" dx="4" dy="-9">t+1</tspan><tspan class="ss" dx="-13" dy="13">k j ДПРР</tspan><tspan class="u" dy="-4">, </tspan><tspan>c</tspan><tspan class="ss" dx="1" dy="4">k j</tspan><tspan class="u" dy="-4"> ≠ 0, </tspan><tspan>w</tspan><tspan class="ss" dx="1" dy="4">k j</tspan><tspan class="u" dy="-4"> ≠ 0</tspan></text>
</g>

<g id="s3-undone-list">
<rect class="bx" x="1126" y="1296" width="109" height="107"/>
<text class="c" x="1181" y="1313" font-size="13.5">Перелік</text>
<text class="c" x="1181" y="1329" font-size="13.5">недовикона-</text>
<text class="c" x="1181" y="1346" font-size="13.5">них заходів</text>
<text class="c" x="1181" y="1363" font-size="13.5">ДПРР в <tspan class="i">t+1</tspan></text>
<text class="c" x="1181" y="1379" font-size="13.5">рік <tspan class="i">Z(Δw<tspan font-size="9" dy="3">kj</tspan><tspan dy="-3">)</tspan></tspan></text>
</g>

<g id="s3-probability">
<rect class="bx" x="26" y="1447" width="492" height="43"/>
<text x="54" y="1471" font-size="14" textLength="367">Оцінка ймовірності реалізації заходів за роками <tspan class="i">t+n</tspan> дії ДПРР</text>
<text class="f" x="425" y="1472" font-size="20" textLength="64">P<tspan class="u" dx="2">(</tspan>w<tspan class="ss" dx="3" dy="-9">t+n</tspan><tspan class="ss" dx="-14" dy="13">k j</tspan><tspan class="u" dx="3" dy="-4">)</tspan></text>
</g>

<g id="s3-pmin">
<rect class="bx" x="528" y="1422" width="244" height="70"/>
<text class="c" x="650" y="1439" font-size="13.5">Визначення мінімального значення</text>
<text class="c" x="650" y="1454" font-size="13.5">показника ймовірності реалізації</text>
<text x="553" y="1476" font-size="13.5" textLength="196">заходів за роками <tspan class="i" font-size="21" dx="2">P</tspan><tspan font-size="9" dx="1" dy="3">min</tspan><tspan font-size="21" dy="-3">(</tspan><tspan class="i" font-size="21">w</tspan><tspan class="ss" dx="2" dy="-9">t+n</tspan><tspan class="ss" dx="-14" dy="13">k j</tspan><tspan font-size="21" dx="3" dy="-4">)</tspan></text>
</g>

<g id="s3-refine-undone">
<rect class="bx" x="782" y="1423" width="452" height="66"/>
<text x="795" y="1441" font-size="13.5" textLength="428">Уточнення переліку та оцінок важливості невиконаних на <tspan class="i">t+1</tspan> рік заходів ДПРР</text>
<text class="f" x="876" y="1470" font-size="24" textLength="263">N<tspan class="ss" dx="4" dy="-10">"t+1 кориг</tspan><tspan class="ss" dx="-46" dy="15">k j ДПРР др</tspan><tspan class="u" dy="-5">= </tspan><tspan>N</tspan><tspan class="ss" dx="4" dy="-10">'t+1 кориг</tspan><tspan class="ss" dx="-44" dy="15">k j ДПРР др</tspan><tspan class="u" dy="-5">− </tspan><tspan>R</tspan><tspan class="u">+</tspan><tspan>Z</tspan></text>
</g>

<g id="s3-time-distribution">
<rect class="bx" x="28" y="1500" width="1201" height="142"/>
<text class="c" x="629" y="1519" font-size="16" textLength="348">Розподіл другорядних заходів за часом їх виконання</text>
<text class="f" x="31" y="1549" font-size="21" textLength="127">W<tspan class="ss" dx="2" dy="-9">T</tspan><tspan class="ss" dx="-5" dy="13">k j</tspan><tspan class="u" dy="-4">= </tspan><tspan>f</tspan><tspan class="u" font-size="26" dy="2">(</tspan><tspan dy="-2">w</tspan><tspan class="ss" dx="2" dy="-9">t</tspan><tspan class="ss" dx="-3" dy="13">k j</tspan><tspan class="u" font-size="26" dx="2" dy="-2">)</tspan><tspan class="u" dy="-2">=</tspan></text>
<text class="u" x="157" y="1556" font-size="30">∑</text>
<text class="ss" x="165" y="1526">T</text>
<text class="ss" x="160" y="1571">t=1</text>
<text class="f" x="183" y="1549" font-size="20" textLength="97">k<tspan class="ss" dx="1" dy="4">t</tspan><tspan class="u" dy="-4"> · </tspan><tspan>w</tspan><tspan class="ss" dx="2" dy="-9">t</tspan><tspan class="ss" dx="-3" dy="13">k j</tspan><tspan class="u" font-size="15" dy="-4"> , де</tspan></text>
<text class="f" x="288" y="1549" font-size="20" textLength="300">w<tspan class="ss" dx="2" dy="-9">t</tspan><tspan class="ss" dx="-3" dy="13">k j</tspan><tspan class="u" dy="-4">= </tspan><tspan>w</tspan><tspan class="ss" dx="2" dy="-9">t</tspan><tspan class="ss" dx="-3" dy="13">k j ДПРР</tspan><tspan class="u" dy="-4"> + </tspan><tspan>P</tspan><tspan class="u" font-size="25" dy="2">(</tspan><tspan dy="-2">w</tspan><tspan class="ss" dx="2" dy="-9">t</tspan><tspan class="ss" dx="-3" dy="13">k j</tspan><tspan class="u" font-size="25" dy="-2">)</tspan><tspan class="u" dy="-2">· </tspan><tspan>Δw</tspan><tspan class="ss" dx="2" dy="-9">t−1</tspan><tspan class="ss" dx="-14" dy="13">k j ДПРР</tspan><tspan dx="3" dy="-4">(R,Z),</tspan></text>
<text class="f" x="592" y="1549" font-size="19" textLength="293">Δw<tspan class="ss" dx="2" dy="-9">t−1</tspan><tspan class="ss" dx="-14" dy="13">k j ДПРР</tspan><tspan dx="3" dy="-4">(R,Z)</tspan><tspan class="u"> = </tspan><tspan>w</tspan><tspan class="ss" dx="2" dy="-9">t−1 план</tspan><tspan class="ss" dx="-38" dy="13">k j ДПРР</tspan><tspan class="u" dx="3" dy="-4"> − </tspan><tspan>w</tspan><tspan class="ss" dx="2" dy="-9">t−1 факт</tspan><tspan class="ss" dx="-40" dy="13">k j ДПРР</tspan><tspan class="u" dx="4" dy="-4">, </tspan><tspan>k</tspan><tspan class="ss" dx="1" dy="4">t</tspan></text>
<text x="889" y="1549" font-size="12.5" textLength="338">- коефіцієнт важливості <tspan class="i">t</tspan>-го року виконання заходу, завдання</text>
<text x="30" y="1588" font-size="12" textLength="157">для усього періоду програми</text>
<text class="f" x="191" y="1588" font-size="20" textLength="138">W<tspan class="ss" dx="5" dy="-10">T</tspan><tspan class="ss" dx="-5" dy="14">k j   ДПРР</tspan><tspan class="u" dx="6" dy="-4">(</tspan><tspan>w</tspan><tspan class="ss" dx="2" dy="-9">t</tspan><tspan class="ss" dx="-3" dy="13">k j</tspan><tspan class="u" dy="-4">) =</tspan></text>
<text x="354" y="1588" font-size="18">max</text>
<text class="ss" x="358" y="1603">w<tspan font-size="7" dy="-4">t</tspan><tspan font-size="7" dx="-2" dy="6">k j</tspan></text>
<text class="f" x="395" y="1588" font-size="20" textLength="334"><tspan class="u" font-size="26" dy="1">{</tspan><tspan dy="-1">k</tspan><tspan class="ss" dx="1" dy="4">t</tspan><tspan class="u" dy="-4"> · </tspan><tspan>w</tspan><tspan class="ss" dx="2" dy="-9">t</tspan><tspan class="ss" dx="-3" dy="13">k j</tspan><tspan class="u" dy="-4">+ </tspan><tspan>k</tspan><tspan class="ss" dx="1" dy="4">t+1</tspan><tspan class="u" dy="-4"> · </tspan><tspan>w</tspan><tspan class="ss" dx="2" dy="-9">t+1</tspan><tspan class="ss" dx="-14" dy="13">k j</tspan><tspan class="u" dy="-4">+ </tspan><tspan>k</tspan><tspan class="ss" dx="1" dy="4">t+2</tspan><tspan class="u" dy="-4"> · </tspan><tspan>w</tspan><tspan class="ss" dx="2" dy="-9">t+2</tspan><tspan class="ss" dx="-14" dy="13">k j</tspan><tspan class="u" dy="-4">+ ... + </tspan></text>
<text class="f" x="731" y="1588" font-size="20" textLength="430">k<tspan class="ss" dx="1" dy="4">t+n</tspan><tspan class="u" dy="-4"> · </tspan><tspan>w</tspan><tspan class="ss" dx="2" dy="-9">t+n</tspan><tspan class="ss" dx="-14" dy="13">k j</tspan><tspan class="u" font-size="25" dy="-2">(</tspan><tspan dy="-2">U</tspan><tspan class="ss" dx="2" dy="4">t+n</tspan><tspan class="u" font-size="25" dy="-2">)</tspan><tspan class="u" dy="-2">+ ... + </tspan><tspan>k</tspan><tspan class="ss" dx="1" dy="4">T</tspan><tspan class="u" dy="-4"> · </tspan><tspan>w</tspan><tspan class="ss" dx="2" dy="-9">T−1</tspan><tspan class="ss" dx="-17" dy="13">k j</tspan><tspan class="u" font-size="25" dy="-2">(</tspan><tspan dy="-2">U</tspan><tspan class="ss" dx="2" dy="4">t+n−1</tspan><tspan class="u" font-size="25" dy="-2">)</tspan><tspan class="u" dy="-2">+ </tspan><tspan>k</tspan><tspan class="ss" dx="1" dy="4">T</tspan><tspan class="u" dy="-4"> · </tspan><tspan>w</tspan><tspan class="ss" dx="3" dy="-9">T</tspan><tspan class="ss" dx="-5" dy="13">k j  ДПРР</tspan><tspan class="u" font-size="26" dx="4" dy="-3">}</tspan></text>
<text x="1163" y="1588" font-size="12">, за умов</text>
<text x="132" y="1618" font-size="11.5" textLength="44">розподілу</text>
<text class="f" x="180" y="1618" font-size="19" textLength="445"><tspan class="u" font-size="27" dy="2">∑</tspan><tspan dy="-2">k</tspan><tspan class="ss" dx="1" dy="4">t+1</tspan><tspan class="u" dy="-4"> =1, </tspan><tspan class="u" font-size="23">∑</tspan><tspan> k</tspan><tspan class="ss" dx="1" dy="4">t</tspan><tspan class="u" dy="-4"> · </tspan><tspan>w</tspan><tspan class="ss" dx="2" dy="-9">t</tspan><tspan class="ss" dx="-3" dy="13">k j</tspan><tspan class="u" dy="-4"> ≤ </tspan><tspan>W</tspan><tspan class="ss" dx="4" dy="-9">T</tspan><tspan class="ss" dx="-5" dy="13">ДПРР</tspan><tspan class="u" dx="4" dy="-4">≤ 1 → max, , 0 ≤ </tspan><tspan>P</tspan><tspan class="u">(</tspan><tspan>w</tspan><tspan class="ss" dx="2" dy="-9">t</tspan><tspan class="ss" dx="-3" dy="13">k j</tspan><tspan class="u" dy="-4">)≤1,</tspan></text>
<text x="629" y="1618" font-size="15">якщо</text>
<text class="f" x="669" y="1618" font-size="20" textLength="157">P<tspan class="u">(</tspan>w<tspan class="ss" dx="2" dy="-9">t</tspan><tspan class="ss" dx="-3" dy="13">k j</tspan><tspan class="u" dy="-4">)⟨</tspan><tspan>P</tspan><tspan class="u" font-size="9" dx="1" dy="3">min</tspan><tspan class="u" dy="-3">(</tspan><tspan>w</tspan><tspan class="ss" dx="2" dy="-9">t</tspan><tspan class="ss" dx="-3" dy="13">k j</tspan><tspan class="u" dy="-4">) ,</tspan></text>
<text x="830" y="1618" font-size="15">тоді</text>
<text class="f" x="862" y="1618" font-size="19" textLength="82">P<tspan class="u">(</tspan>w<tspan class="ss" dx="2" dy="-9">t</tspan><tspan class="ss" dx="-3" dy="13">k j</tspan><tspan class="u" dy="-4">) = 0</tspan></text>
<text x="950" y="1618" font-size="15">навпаки</text>
<text class="f" x="1004" y="1618" font-size="20" textLength="117">w<tspan class="ss" dx="2" dy="-9">t</tspan><tspan class="ss" dx="-3" dy="13">k j</tspan><tspan class="u" dy="-4"> = </tspan><tspan>w</tspan><tspan class="ss" dx="2" dy="-9">t</tspan><tspan class="ss" dx="-3" dy="13">k j ДПРР</tspan></text>
</g>

<g id="s3-correct-costs">
<rect class="bt" x="30" y="1652" width="791" height="46"/>
<text x="60" y="1679" font-size="15.5" textLength="284">Коригування показників витрат за заходами</text>
<text class="f" x="351" y="1680" font-size="21">c<tspan class="ss" dx="5" dy="-9">t+n</tspan><tspan class="ss" dx="-14" dy="13">k j</tspan></text>
<text x="398" y="1679" font-size="15.5" textLength="391">в ДПРР відповідно до результатів коригування на <tspan class="i">t+n</tspan> роки</text>
</g>

<g id="s3-unit-cost">
<rect class="bx" x="839" y="1652" width="390" height="46"/>
<text x="860" y="1679" font-size="13.5" textLength="202">Вартість одиниці заходу станом на <tspan class="i">t+1</tspan></text>
<text class="f" x="1072" y="1680" font-size="21" textLength="129">c<tspan class="ss" dx="4" dy="-10">1</tspan><tspan class="ss" dx="-5" dy="14">k j</tspan><tspan class="u" dx="4" dy="-4">= </tspan><tspan>C</tspan><tspan class="ss" dx="3" dy="-10">t+1</tspan><tspan class="ss" dx="-14" dy="14">k j</tspan><tspan class="u" font-size="27" dx="4" dy="-4">/</tspan><tspan>w</tspan><tspan class="ss" dx="3" dy="-10">t+1</tspan><tspan class="ss" dx="-14" dy="14">k j</tspan></text>
</g>

<g id="s4-forecast">
<rect class="bx" x="30" y="1750" width="345" height="52"/>
<text class="c" x="202" y="1768" textLength="325">Прогнозна оцінка результатів виконання завдань</text>
<text x="62" y="1791" textLength="270">ДПРР та ДПРР в цілому <tspan class="i" font-size="22">W</tspan><tspan class="ss" dx="4" dy="-9">t+n</tspan><tspan class="ss" dx="-13" dy="13">k</tspan><tspan class="i" font-size="22" dx="10" dy="-4">, H</tspan><tspan class="ss" dx="5" dy="-9">t+n</tspan><tspan class="ss" dx="-13" dy="13">ДПРР</tspan></text>
</g>

<g id="s4-final">
<rect class="bx" x="391" y="1750" width="846" height="60"/>
<text x="425" y="1768" textLength="780">Остаточне уточнення (коригування) показників результатів виконання заходів та завдань ДПРР на наступні <tspan class="i">t+n</tspan> роки</text>
<text x="407" y="1793" textLength="674">ДПРР та коригування кінцевого очікуваного результату виконання завдань ДПРР та ДПРР в цілому</text>
<text class="f" x="1085" y="1794" font-size="22" textLength="120">W<tspan class="ss" dx="4" dy="-9">T</tspan><tspan class="ss" dx="-5" dy="13">k ДПРР</tspan><tspan dx="2" dy="-4">, H</tspan><tspan class="ss" dx="5" dy="-9">T</tspan><tspan class="ss" dx="-5" dy="13">ДПРР</tspan></text>
</g>
</svg>
